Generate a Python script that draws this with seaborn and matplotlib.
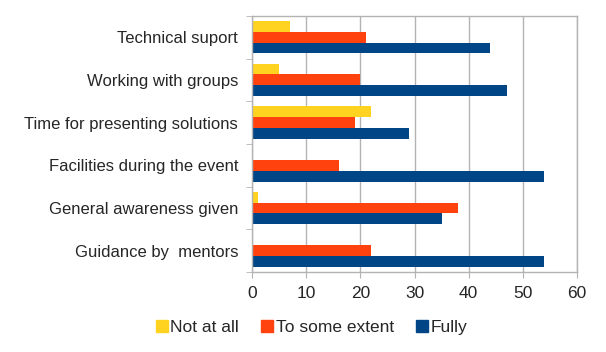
import matplotlib
matplotlib.use('Agg')
import matplotlib.pyplot as plt
import pandas as pd
import seaborn as sns

categories = ['Technical suport', 'Working with groups', 'Time for presenting solutions',
              'Facilities during the event', 'General awareness given', 'Guidance by  mentors']
series = ['Not at all', 'To some extent', 'Fully']
not_at_all = [7, 5, 22, 0, 1, 0]
some_extent = [21, 20, 19, 16, 38, 22]
fully = [44, 47, 29, 54, 35, 54]
colors = ['#FFD320', '#FF420E', '#004586']

rows = []
for i, cat in enumerate(categories):
    for name, vals in zip(series, [not_at_all, some_extent, fully]):
        rows.append({'category': cat, 'answer': name, 'count': vals[i]})
df = pd.DataFrame(rows)

sns.set_style('white')
plt.rcParams['font.family'] = ['Liberation Sans', 'DejaVu Sans']

fig = plt.figure(figsize=(6.06, 3.52), dpi=100)
ax = fig.add_axes([0.416, 0.227, 0.536, 0.728])
sns.barplot(data=df, y='category', x='count', hue='answer', order=categories,
            hue_order=series, palette=colors, width=0.76, orient='h', ax=ax,
            saturation=1, legend=False, linewidth=0, gap=0)

ax.set_xlim(0, 60)
ax.set_xticks(range(0, 61, 10))
ax.set_xlabel('')
ax.set_ylabel('')
ax.grid(axis='x', color='#b3b3b3', linewidth=1)
ax.set_axisbelow(True)
for s in ax.spines.values():
    s.set_color('#b3b3b3')
    s.set_linewidth(1)
ax.tick_params(axis='x', labelsize=12.5, length=4, color='#b3b3b3', bottom=True, pad=6)
ax.tick_params(axis='y', labelsize=12, length=0, pad=10)
ax.set_yticks([i + 0.5 for i in range(-1, len(categories))], minor=True)
ax.tick_params(axis='y', which='minor', length=4, color='#b3b3b3', left=True)

handles = [plt.Line2D([], [], marker='s', linestyle='', markersize=8,
                      markerfacecolor=c, markeredgecolor=c) for c in colors]
fig.legend(handles, series, loc='center', bbox_to_anchor=(0.513, 0.071), ncol=3,
           frameon=False, fontsize=12.5, handletextpad=0.1, columnspacing=1.2,
           handlelength=0.8)

fig.savefig('out.png', dpi=100)
